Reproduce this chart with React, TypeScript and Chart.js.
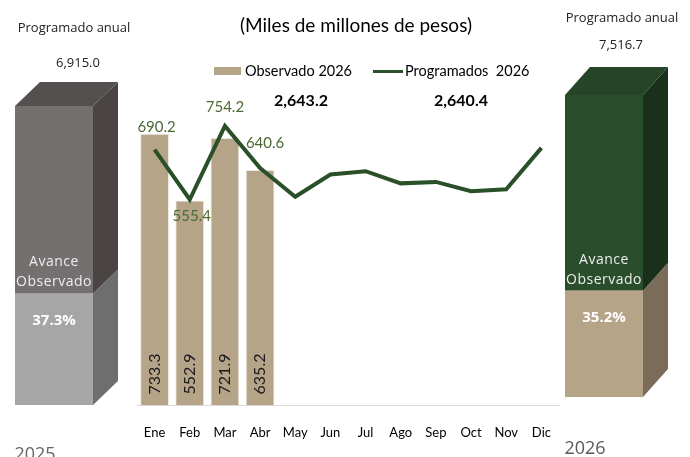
import React, { useEffect, useRef } from "react";
import { Chart, registerables } from "chart.js";

Chart.register(...registerables);

// ---------- DATA ----------
const months = ["Ene", "Feb", "Mar", "Abr", "May", "Jun", "Jul", "Ago", "Sep", "Oct", "Nov", "Dic"];
const observado2026 = [733.3, 552.9, 721.9, 635.2];
const programados2026 = [690.2, 555.4, 754.2, 640.6, 563, 623, 632, 599, 603, 578, 583, 695];
const totalLabels = ["2,643.2", "2,640.4"];
const boxYears = ["2025", "2026"];
const annualProgram = ["6,915.0", "7,516.7"];
const avancePct = [37.3, 35.2];

const FONT = "Lato, 'Open Sans', sans-serif";
const BOX_FONT = "'Open Sans', Lato, sans-serif";
const GREEN = "#2A5029";
const LABEL_GREEN = "#4C6A35";
const TAN = "#B5A488";

// offsets (style only) for the programmed value labels
const lineLabelOffsets = [
  [2, -22],
  [2, 17],
  [0, -19],
  [5, -25],
];

const mainLabels = {
  id: "mainLabels",
  afterDatasetsDraw(chart: any) {
    const ctx = chart.ctx;
    const barMeta = chart.getDatasetMeta(0);
    const lineMeta = chart.getDatasetMeta(1);
    ctx.save();
    ctx.textAlign = "center";
    ctx.textBaseline = "middle";
    ctx.font = `16px ${FONT}`;
    ctx.fillStyle = "#1a1a1a";
    barMeta.data.forEach((el: any, i: number) => {
      if (observado2026[i] == null) return;
      ctx.save();
      ctx.translate(el.x, el.base - 31);
      ctx.rotate(-Math.PI / 2);
      ctx.fillText(observado2026[i].toFixed(1), 0, 0);
      ctx.restore();
    });
    ctx.font = `15px ${FONT}`;
    ctx.fillStyle = LABEL_GREEN;
    lineMeta.data.forEach((pt: any, i: number) => {
      if (i >= observado2026.length) return;
      const off = lineLabelOffsets[i] || [0, -20];
      ctx.fillText(programados2026[i].toFixed(1), pt.x + off[0], pt.y + off[1]);
    });
    ctx.restore();
  },
};

function MainChart() {
  const ref = useRef<HTMLCanvasElement>(null);
  useEffect(() => {
    const chart = new Chart(ref.current!, {
      type: "bar",
      data: {
        labels: months,
        datasets: [
          {
            type: "bar",
            label: "Observado 2026",
            data: observado2026,
            backgroundColor: TAN,
            borderColor: "#EEE9E1",
            borderWidth: 1,
            barPercentage: 0.82,
            categoryPercentage: 1,
            order: 2,
          } as any,
          {
            type: "line",
            label: "Programados 2026",
            data: programados2026,
            borderColor: GREEN,
            borderWidth: 4,
            pointRadius: 0,
            tension: 0,
            order: 1,
          } as any,
        ],
      },
      options: {
        responsive: false,
        animation: false,
        devicePixelRatio: 1,
        layout: { padding: { left: 7, right: 6, top: 35, bottom: 0 } },
        plugins: { legend: { display: false }, tooltip: { enabled: false } },
        scales: {
          x: {
            grid: { display: false, drawTicks: true, tickLength: 17 },
            border: { display: true, color: "#D9D9D9", width: 1 },
            ticks: { color: "#000", font: { family: FONT, size: 13 }, padding: 3 },
            afterFit: (s: any) => {
              s.height = 52;
            },
          },
          y: { display: false, min: 0, max: 1000 },
        },
      },
      plugins: [mainLabels],
    });
    return () => chart.destroy();
  }, []);
  return (
    <canvas
      ref={ref}
      width={435}
      height={457}
      style={{ position: "absolute", left: 130, top: 0, width: 435, height: 457 }}
    />
  );
}

type BoxStyle = {
  frontLow: string;
  sideLow: string;
  frontHigh: string;
  sideHigh: string;
  top: string;
  dx: number;
  dy: number;
};

function makeBoxPlugin(pct: number, st: BoxStyle) {
  return {
    id: "box3d",
    afterDatasetsDraw(chart: any) {
      const ctx = chart.ctx;
      const n = chart.data.datasets.length;
      let split = 0;
      let cx = 0;
      ctx.save();
      for (let di = 0; di < n; di++) {
        const el = chart.getDatasetMeta(di).data[0];
        const { x, y, base, width } = el.getProps(["x", "y", "base", "width"], true);
        const x1 = x - width / 2;
        const x2 = x + width / 2;
        const top = Math.min(y, base);
        const bot = Math.max(y, base);
        ctx.fillStyle = di === 0 ? st.sideLow : st.sideHigh;
        ctx.beginPath();
        ctx.moveTo(x2, top);
        ctx.lineTo(x2 + st.dx, top + st.dy);
        ctx.lineTo(x2 + st.dx, bot + st.dy);
        ctx.lineTo(x2, bot);
        ctx.closePath();
        ctx.fill();
        if (di === n - 1) {
          ctx.fillStyle = st.top;
          ctx.beginPath();
          ctx.moveTo(x1, top);
          ctx.lineTo(x1 + st.dx, top + st.dy);
          ctx.lineTo(x2 + st.dx, top + st.dy);
          ctx.lineTo(x2, top);
          ctx.closePath();
          ctx.fill();
        }
        if (di === 0) {
          split = top;
          cx = x;
        }
      }
      ctx.textAlign = "center";
      ctx.textBaseline = "middle";
      ctx.fillStyle = "#EDEDED";
      ctx.font = `14px ${BOX_FONT}`;
      try {
        (ctx as any).letterSpacing = "0.5px";
      } catch (e) {}
      ctx.fillText("Avance", cx, split - 31);
      ctx.fillText("Observado", cx, split - 11);
      try {
        (ctx as any).letterSpacing = "0px";
      } catch (e) {}
      ctx.fillStyle = "#FFFFFF";
      ctx.font = `bold 15px ${BOX_FONT}`;
      ctx.fillText(`${pct.toFixed(1)}%`, cx, split + 27);
      ctx.restore();
    },
  };
}

function BoxChart(props: {
  idx: number;
  left: number;
  width: number;
  pad: { left: number; right: number; top: number; bottom: number };
  st: BoxStyle;
}) {
  const ref = useRef<HTMLCanvasElement>(null);
  const { idx, left, width, pad, st } = props;
  useEffect(() => {
    const pct = avancePct[idx];
    const chart = new Chart(ref.current!, {
      type: "bar",
      data: {
        labels: [boxYears[idx]],
        datasets: [
          { label: "Avance Observado", data: [pct], backgroundColor: st.frontLow, borderWidth: 0, barPercentage: 1, categoryPercentage: 1 },
          { label: "Programado anual", data: [100 - pct], backgroundColor: st.frontHigh, borderWidth: 0, barPercentage: 1, categoryPercentage: 1 },
        ],
      },
      options: {
        responsive: false,
        animation: false,
        devicePixelRatio: 1,
        layout: { padding: pad },
        plugins: { legend: { display: false }, tooltip: { enabled: false } },
        scales: {
          x: { display: false, stacked: true },
          y: { display: false, stacked: true, min: 0, max: 100 },
        },
      },
      plugins: [makeBoxPlugin(pct, st)],
    });
    return () => chart.destroy();
  }, []);
  return (
    <canvas
      ref={ref}
      width={width}
      height={457}
      style={{ position: "absolute", left, top: 0, width, height: 457 }}
    />
  );
}

function Txt(props: { x: number; y: number; size: number; children: any; bold?: boolean; color?: string; family?: string; align?: "center" | "left" }) {
  const { x, y, size, bold, color, family, align = "center" } = props;
  return (
    <div
      style={{
        position: "absolute",
        left: x,
        top: y,
        transform: align === "center" ? "translate(-50%, -50%)" : "translate(0, -50%)",
        whiteSpace: "nowrap",
        fontSize: size,
        fontWeight: bold ? 700 : 400,
        color: color || "#000",
        fontFamily: family || FONT,
        lineHeight: 1,
      }}
    >
      {props.children}
    </div>
  );
}

const leftStyle: BoxStyle = {
  frontLow: "#A6A6A6",
  sideLow: "#6E6E6E",
  frontHigh: "#747070",
  sideHigh: "#4A4544",
  top: "#545050",
  dx: 25,
  dy: -24,
};

const rightStyle: BoxStyle = {
  frontLow: "#B5A488",
  sideLow: "#7A6C58",
  frontHigh: "#2A4D2B",
  sideHigh: "#1B301B",
  top: "#264527",
  dx: 25,
  dy: -28,
};

export default function App() {
  return (
    <div style={{ position: "fixed", left: 0, top: 0, width: 690, height: 457, background: "#fff", overflow: "hidden" }}>
      <BoxChart idx={0} left={0} width={135} pad={{ left: 15, right: 42, top: 106, bottom: 52 }} st={leftStyle} />
      <MainChart />
      <BoxChart idx={1} left={540} width={150} pad={{ left: 25, right: 47, top: 95, bottom: 60 }} st={rightStyle} />

      <Txt x={356} y={24} size={19}>(Miles de millones de pesos)</Txt>

      <div style={{ position: "absolute", left: 214, top: 67, width: 27, height: 8, background: TAN }} />
      <Txt x={245} y={71} size={14.5} align="left">Observado 2026</Txt>
      <div style={{ position: "absolute", left: 373, top: 70, width: 30, height: 3, background: GREEN }} />
      <Txt x={405} y={71} size={14.5} align="left">Programados&nbsp; 2026</Txt>

      <Txt x={301} y={100} size={16} bold>{totalLabels[0]}</Txt>
      <Txt x={461} y={100} size={16} bold>{totalLabels[1]}</Txt>

      <Txt x={74} y={27} size={13} family={BOX_FONT} color="#222">Programado anual</Txt>
      <Txt x={78} y={62} size={13} family={BOX_FONT} color="#222">{annualProgram[0]}</Txt>
      <Txt x={622} y={17} size={13} family={BOX_FONT} color="#222">Programado anual</Txt>
      <Txt x={621} y={44} size={13} family={BOX_FONT} color="#222">{annualProgram[1]}</Txt>

      <Txt x={35} y={453} size={18} family={BOX_FONT} color="#666">{boxYears[0]}</Txt>
      <Txt x={585} y={447} size={18} family={BOX_FONT} color="#595959">{boxYears[1]}</Txt>
    </div>
  );
}
